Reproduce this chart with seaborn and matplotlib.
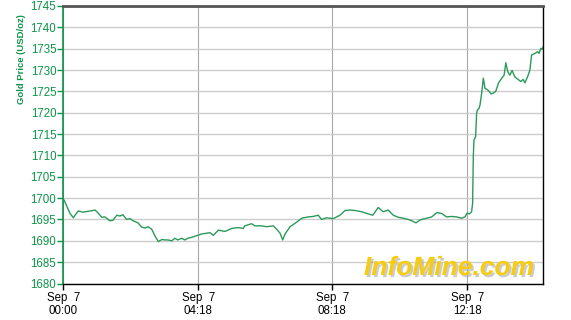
import matplotlib
matplotlib.use("Agg")
import matplotlib.pyplot as plt
import matplotlib.patheffects as pe
import seaborn as sns
import pandas as pd

# time in hours since Sep 7 00:00 (approx.)
hours = [0.02, 0.20, 0.30, 0.38, 0.45, 0.59, 0.80, 0.95, 1.04, 1.15, 1.24, 1.39, 1.48,
         1.60, 1.69, 1.78, 1.89, 1.99, 2.08, 2.23, 2.34, 2.44, 2.53, 2.64, 2.74, 2.84,
         2.94, 3.04, 3.13, 3.24, 3.33, 3.42, 3.53, 3.63, 3.72, 3.83, 3.98, 4.13, 4.38,
         4.48, 4.63, 4.83, 5.03, 5.22, 5.37, 5.42, 5.62, 5.72, 5.92, 6.07, 6.27, 6.37,
         6.47, 6.55, 6.62, 6.77, 6.92, 7.12, 7.31, 7.46, 7.61, 7.71, 7.86, 8.06, 8.26,
         8.41, 8.56, 8.71, 8.91, 9.10, 9.24, 9.40, 9.55, 9.70, 9.85, 10.00, 10.15, 10.30,
         10.40, 10.53, 10.65, 10.85, 11.00, 11.15, 11.30, 11.44, 11.59, 11.74, 11.89,
         11.99, 12.06, 12.12, 12.19, 12.22, 12.24, 12.26, 12.31, 12.34, 12.36, 12.41,
         12.44, 12.49, 12.54, 12.59, 12.66, 12.69, 12.77, 12.84, 12.91, 12.99, 13.09,
         13.16, 13.21, 13.27, 13.33, 13.40, 13.48, 13.58, 13.66, 13.73, 13.78, 13.86,
         13.93, 13.98, 14.08, 14.16, 14.20, 14.26, 14.30, 14.33]
price = [1699.6, 1696.4, 1695.4, 1696.3, 1697.0, 1696.7, 1697.0, 1697.2, 1696.5, 1695.5,
         1695.6, 1694.7, 1694.8, 1696.0, 1695.8, 1696.1, 1695.0, 1695.2, 1694.7, 1694.2,
         1693.2, 1693.0, 1693.3, 1692.7, 1691.1, 1689.8, 1690.3, 1690.2, 1690.2, 1690.0,
         1690.6, 1690.2, 1690.6, 1690.2, 1690.6, 1690.8, 1691.2, 1691.6, 1691.9, 1691.3,
         1692.5, 1692.2, 1692.9, 1693.1, 1692.9, 1693.5, 1694.0, 1693.5, 1693.5, 1693.3,
         1693.5, 1692.7, 1691.8, 1690.2, 1691.6, 1693.3, 1694.1, 1695.3, 1695.6, 1695.7,
         1696.0, 1695.0, 1695.4, 1695.2, 1696.0, 1697.1, 1697.2, 1697.1, 1696.8, 1696.3,
         1696.0, 1697.8, 1696.8, 1697.2, 1696.0, 1695.5, 1695.3, 1695.0, 1694.7, 1694.2,
         1694.9, 1695.3, 1695.6, 1696.6, 1696.4, 1695.6, 1695.7, 1695.6, 1695.3, 1695.6,
         1696.5, 1696.3, 1696.8, 1698.8, 1709.7, 1713.6, 1714.4, 1719.9, 1720.6, 1721.0,
         1721.8, 1724.6, 1728.1, 1725.7, 1725.4, 1725.2, 1724.4, 1724.6, 1725.0, 1726.9,
         1728.1, 1728.8, 1731.7, 1729.6, 1728.8, 1729.9, 1728.4, 1727.8, 1727.3, 1727.8,
         1727.0, 1728.4, 1730.0, 1733.5, 1733.9, 1734.3, 1733.9, 1735.1, 1734.9, 1735.5]

x_tick_pos = [0.0, 4.03, 8.03, 12.06]
x_tick_labels = ["Sep  7\n00:00", "Sep  7\n04:18", "Sep  7\n08:18", "Sep  7\n12:18"]
y_ticks = list(range(1680, 1746, 5))

sns.set_style("white")
plt.rcParams["font.family"] = ["Liberation Sans", "DejaVu Sans"]

GREEN_TXT = "#0c9447"
LINE = "#2a9a5a"

fig = plt.figure(figsize=(5.71, 3.20), dpi=100)
ax = fig.add_axes([63.3 / 571, 1 - 283.5 / 320, 480 / 571, (283.5 - 6) / 320])

df = pd.DataFrame({"hours": hours, "price": price})
sns.lineplot(data=df, x="hours", y="price", ax=ax, color=LINE, linewidth=1.0)

ax.set_xlim(0, 14.33)
ax.set_ylim(1680, 1745)
ax.set_yticks(y_ticks)
ax.set_yticklabels([str(v) for v in y_ticks], color=GREEN_TXT, fontsize=8.3)
ax.set_xticks(x_tick_pos)
ax.set_xticklabels(x_tick_labels, fontsize=8.3, color="black", linespacing=1.1)

ax.grid(axis="y", color="#cccccc", linewidth=1.0)
ax.grid(axis="x", color="#a8a8a8", linewidth=0.8)
ax.set_axisbelow(True)

ax.tick_params(axis="y", direction="out", length=4, width=1, color=GREEN_TXT, pad=1, left=True)
ax.tick_params(axis="x", direction="out", length=4, width=1, color="black", pad=2, bottom=True)

ax.spines["left"].set_color(GREEN_TXT)
ax.spines["left"].set_linewidth(1.2)
ax.spines["bottom"].set_color("black")
ax.spines["bottom"].set_linewidth(1.0)
ax.spines["right"].set_color("black")
ax.spines["right"].set_linewidth(1.0)
ax.spines["top"].set_color("#555555")
ax.spines["top"].set_linewidth(2.0)
for s in ax.spines.values():
    s.set_visible(True)

ax.set_xlabel("")
ax.set_ylabel("Gold Price (USD/oz)", color=GREEN_TXT, fontsize=6.8, fontweight="bold")
ax.yaxis.set_label_coords(-0.078, 0.81)

fig.text(449 / 571, 1 - 268 / 320, "InfoMine.com", ha="center", va="center",
         fontsize=19, fontweight="bold", fontstyle="italic", color="#f7cc10",
         path_effects=[pe.withSimplePatchShadow(offset=(1.5, -1.5), shadow_rgbFace="#999999", alpha=0.5)])

fig.savefig("out.png", dpi=100)
